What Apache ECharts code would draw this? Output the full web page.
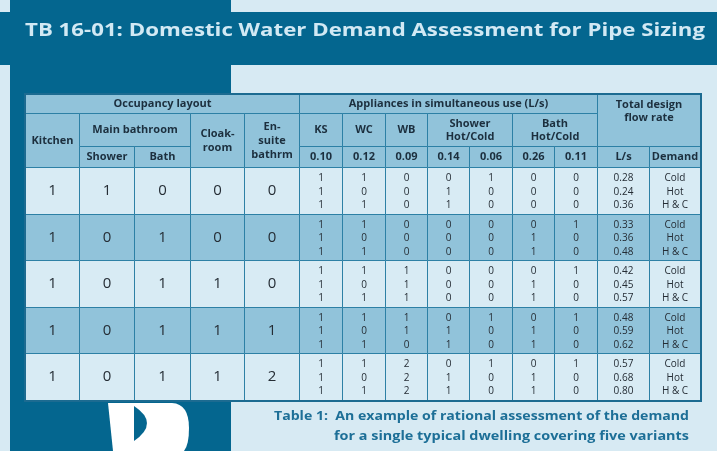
<!DOCTYPE html>
<html>
<head>
<meta charset="utf-8">
<title>TB 16-01</title>
<script src="https://cdn.jsdelivr.net/npm/echarts@6/dist/echarts.min.js"></script>
<style>
    html, body { margin: 0; padding: 0; background: #d7eaf3; }
    #main { width: 717px; height: 451px; }
</style>
</head>
<body>
<div id="main"></div>
<script type="text/javascript">

    // ---- data ----
    var titleText = 'TB 16-01: Domestic Water Demand Assessment for Pipe Sizing';
    var captionLines = ['Table 1:  An example of rational assessment of the demand',
                        'for a single typical dwelling covering five variants'];

    var kitchen   = [1, 1, 1, 1, 1];
    var shower    = [1, 0, 0, 0, 0];
    var bath      = [0, 1, 1, 1, 1];
    var cloakroom = [0, 0, 1, 1, 1];
    var ensuite   = [0, 0, 0, 1, 2];

    var applianceNames = ['KS', 'WC', 'WB'];
    var applianceRates = ['0.10', '0.12', '0.09', '0.14', '0.06', '0.26', '0.11'];

    // appliances in use per variant, lines = Cold / Hot / H & C
    var use1 = [[1, 1, 0, 0, 1, 0, 0], [1, 0, 0, 1, 0, 0, 0], [1, 1, 0, 1, 0, 0, 0]];
    var use2 = [[1, 1, 0, 0, 0, 0, 1], [1, 0, 0, 0, 0, 1, 0], [1, 1, 0, 0, 0, 1, 0]];
    var use3 = [[1, 1, 1, 0, 0, 0, 1], [1, 0, 1, 0, 0, 1, 0], [1, 1, 1, 0, 0, 1, 0]];
    var use4 = [[1, 1, 1, 0, 1, 0, 1], [1, 0, 1, 1, 0, 1, 0], [1, 1, 0, 1, 0, 1, 0]];
    var use5 = [[1, 1, 2, 0, 1, 0, 1], [1, 0, 2, 1, 0, 1, 0], [1, 1, 2, 1, 0, 1, 0]];
    var useAll = [use1, use2, use3, use4, use5];

    var flowRate = [[0.28, 0.24, 0.36], [0.33, 0.36, 0.48], [0.42, 0.45, 0.57],
                    [0.48, 0.59, 0.62], [0.57, 0.68, 0.80]];
    var demand = ['Cold', 'Hot', 'H & C'];

    // ---- layout ----
    var colWidths = [54, 55, 56, 54, 55, 43, 43, 42, 42, 43, 42, 43, 52, 51];
    var rowHeights = [19, 33, 21, 46.6, 46.6, 46.6, 46.6, 46.6];

    function edges(a) {
        var e = [0];
        for (var i = 0; i < a.length; i++) e.push(e[i] + a[i]);
        return e;
    }
    var colEdges = edges(colWidths);
    var rowEdges = edges(rowHeights);
    var tableW = colEdges[colEdges.length - 1];
    var tableH = rowEdges[rowEdges.length - 1];

    var HEAD = '#91c3da', LIGHT = '#d8ebf4', MID = '#91c3da';
    var LINE = '#2d80a5', DARK = '#04668f';
    var FONT = '"Open Sans", "Noto Sans", sans-serif';

    var cells = [];
    function cell(c0, c1, r0, r1, text, kind, fill) {
        cells.push({c0: c0, c1: c1, r0: r0, r1: r1, text: String(text), kind: kind, fill: fill || HEAD});
    }

    cell(0, 5, 0, 1, 'Occupancy layout', 'head');
    cell(5, 12, 0, 1, 'Appliances in simultaneous use (L/s)', 'head');
    cell(12, 14, 0, 2, 'Total design\nflow rate', 'headTop');
    cell(0, 1, 1, 3, 'Kitchen', 'head');
    cell(1, 3, 1, 2, 'Main bathroom', 'head');
    cell(1, 2, 2, 3, 'Shower', 'head');
    cell(2, 3, 2, 3, 'Bath', 'head');
    cell(3, 4, 1, 3, 'Cloak-\nroom', 'head2');
    cell(4, 5, 1, 3, 'En-\nsuite\nbathrm', 'head2');
    applianceNames.forEach(function (n, k) { cell(5 + k, 6 + k, 1, 2, n, 'head'); });
    cell(8, 10, 1, 2, 'Shower\nHot/Cold', 'head');
    cell(10, 12, 1, 2, 'Bath\nHot/Cold', 'head');
    applianceRates.forEach(function (r, k) { cell(5 + k, 6 + k, 2, 3, r, 'head'); });
    cell(12, 13, 2, 3, 'L/s', 'head');
    cell(13, 14, 2, 3, 'Demand', 'head');

    for (var v = 0; v < 5; v++) {
        var r = 3 + v;
        var fill = v % 2 === 0 ? LIGHT : MID;
        [kitchen, shower, bath, cloakroom, ensuite].forEach(function (arr, k) {
            cell(k, k + 1, r, r + 1, arr[v], 'big', fill);
        });
        for (var a = 0; a < 7; a++) {
            var lines = useAll[v].map(function (row) { return row[a]; });
            cell(5 + a, 6 + a, r, r + 1, lines.join('\n'), 'small', fill);
        }
        cell(12, 13, r, r + 1, flowRate[v].map(function (x) { return x.toFixed(2); }).join('\n'), 'small', fill);
        cell(13, 14, r, r + 1, demand.join('\n'), 'small', fill);
    }

    var textStyles = {
        head:    {fontSize: 11, fontWeight: 'bold', fill: '#1c2f3e', lineHeight: 13},
        head2:   {fontSize: 11, fontWeight: 'bold', fill: '#1c2f3e', lineHeight: 14},
        headTop: {fontSize: 11, fontWeight: 'bold', fill: '#1c2f3e', lineHeight: 13},
        big:     {fontSize: 15, fontWeight: 'normal', fill: '#252d35', lineHeight: 15},
        small:   {fontSize: 10, fontWeight: 'normal', fill: '#252d35', lineHeight: 13.5}
    };

    function px(v) { return Math.round(v) + 0.5; }

    function renderCell(params, api) {
        var c = cells[api.value(4)];
        var p0 = api.coord([colEdges[c.c0], rowEdges[c.r0]]);
        var p1 = api.coord([colEdges[c.c1], rowEdges[c.r1]]);
        var x0 = px(p0[0]), y0 = px(p0[1]), x1 = px(p1[0]), y1 = px(p1[1]);
        var ts = textStyles[c.kind];
        var top = c.kind === 'headTop';
        return {
            type: 'group',
            children: [{
                type: 'rect',
                shape: {x: x0, y: y0, width: x1 - x0, height: y1 - y0},
                style: {fill: c.fill, stroke: LINE, lineWidth: 1}
            }, {
                type: 'text',
                style: {
                    text: c.text,
                    x: (x0 + x1) / 2,
                    y: top ? y0 + 4 : (y0 + y1) / 2 + (c.kind === 'small' ? 1 : 0),
                    align: 'center',
                    verticalAlign: top ? 'top' : 'middle',
                    fontFamily: FONT,
                    fontSize: ts.fontSize,
                    fontWeight: ts.fontWeight,
                    lineHeight: ts.lineHeight,
                    fill: ts.fill
                }
            }]
        };
    }

    function renderBorder(params, api) {
        var p0 = api.coord([0, 0]);
        var p1 = api.coord([tableW, tableH]);
        return {
            type: 'rect',
            shape: {x: Math.round(p0[0]), y: Math.round(p0[1]),
                    width: Math.round(p1[0] - p0[0]) + 1, height: Math.round(p1[1] - p0[1]) + 1},
            style: {fill: 'none', stroke: '#1c6b91', lineWidth: 2}
        };
    }

    // the white "D" mark in the lower left corner
    function renderLogo(params, api) {
        return {
            type: 'group',
            children: [{
                type: 'path',
                shape: {pathData: 'M108,403 L172,403 Q189,404 189,428 Q189,445 184,451 L113,451 Z'},
                style: {fill: '#ffffff'}
            }, {
                type: 'path',
                shape: {pathData: 'M134,406 Q160,423 134,441 Z'},
                style: {fill: DARK}
            }]
        };
    }

    // fit a line of text to a width by stretching
    var measure = document.createElement('canvas').getContext('2d');
    function fitScale(text, font, width) {
        measure.font = font;
        return width / measure.measureText(text).width;
    }

    var titleFont = 'bold 17px "Open Sans"';
    var capFont = 'bold 12px "Open Sans"';

    var myChart = echarts.init(document.getElementById('main'));
    var option = {
        backgroundColor: '#d7eaf3',
        animation: false,
        grid: {left: 25, top: 94, width: 675, height: 306},
        xAxis: {type: 'value', min: 0, max: tableW, show: false},
        yAxis: {type: 'value', min: 0, max: tableH, inverse: true, show: false},
        graphic: [
            {type: 'rect', z: -10, shape: {x: 10, y: 0, width: 221, height: 451}, style: {fill: DARK}},
            {type: 'rect', z: -10, shape: {x: 0, y: 12, width: 717, height: 53}, style: {fill: DARK}},
            {type: 'text', x: 25, y: 31, scaleX: fitScale(titleText, titleFont, 680),
             style: {text: titleText, x: 0, y: 0, font: titleFont, fill: '#d2e9f4', verticalAlign: 'middle'}},
            {type: 'text', x: 689, y: 417, scaleX: fitScale(captionLines[0], capFont, 415),
             style: {text: captionLines[0], x: 0, y: 0, font: capFont, fill: '#1d6f97', align: 'right', verticalAlign: 'middle'}},
            {type: 'text', x: 689, y: 437, scaleX: fitScale(captionLines[1], capFont, 355),
             style: {text: captionLines[1], x: 0, y: 0, font: capFont, fill: '#1d6f97', align: 'right', verticalAlign: 'middle'}}
        ],
        series: [{
            type: 'custom',
            renderItem: renderCell,
            encode: {x: [0, 2], y: [1, 3]},
            data: cells.map(function (c, i) {
                return [colEdges[c.c0], rowEdges[c.r0], colEdges[c.c1], rowEdges[c.r1], i];
            }),
            silent: true
        }, {
            type: 'custom',
            renderItem: renderBorder,
            encode: {x: [0, 2], y: [1, 3]},
            data: [[0, 0, tableW, tableH]],
            silent: true
        }, {
            type: 'custom',
            coordinateSystem: 'none',
            renderItem: renderLogo,
            data: [0],
            silent: true
        }]
    };
    myChart.setOption(option);
</script>
</body>
</html>
